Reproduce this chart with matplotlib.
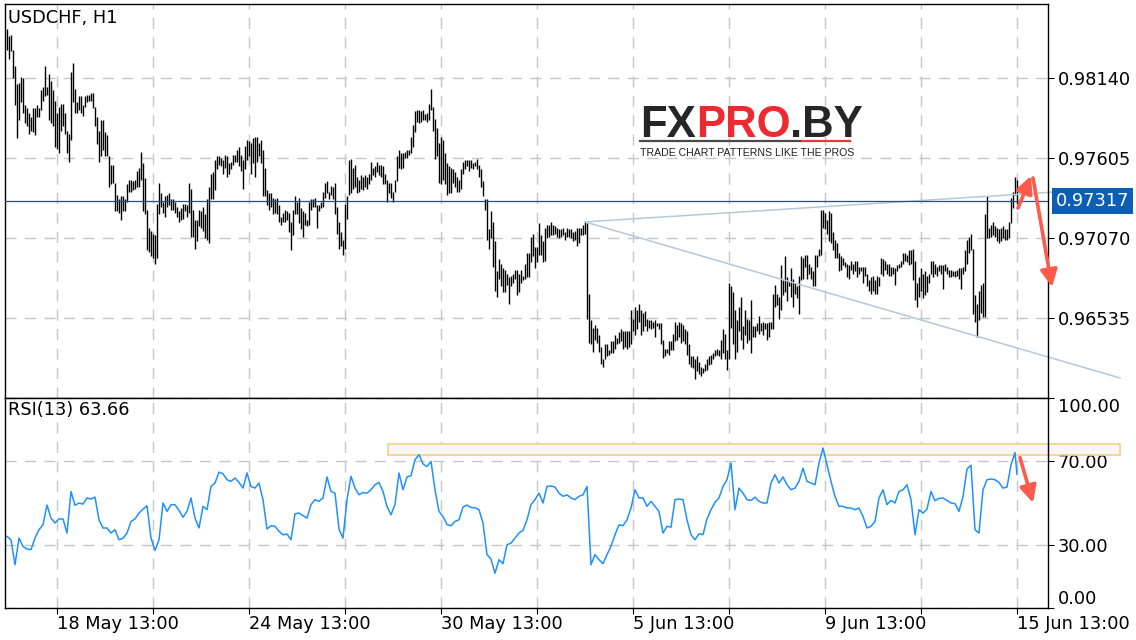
import numpy as np
import matplotlib.pyplot as plt
from matplotlib.patches import Rectangle
from matplotlib.lines import Line2D
from matplotlib.transforms import blended_transform_factory

# USDCHF H1 bars as (high, low) in pips above 0.96000
BASE = 0.96

hl_1 = [(247,233),(242,227),(243,232),(233,214),(222,196),(210,174),(211,186),(215,198),(214,191),(196,184),
        (194,182),(191,177),(188,179),(194,178),(194,176),(196,188),(194,188),(206,193),(208,199),(222,202),
        (208,203),(217,186),(212,184),(206,182),(199,168),(191,167),(195,164),(197,179),(197,182),(191,177),
        (179,164),(177,158),(218,173),(224,198),(207,191),(198,191),(202,193),(202,191),(196,189),(202,195),
        (203,198),(203,199),(204,199),(204,194),(195,182),(188,170),(179,158),(186,162),(186,166),(178,162),
        (176,162),(162,141),(156,143),(156,144),(144,125),(136,125),(133,124),(135,119),(135,125),(133,125),
        (143,131),(146,138),(146,138),(145,139),(146,140),(152,141),(154,141),(165,146),(157,125),(147,123),
        (126,99),(114,98),(112,95),(110,94),(109,90),(130,94),(144,123),(137,128),(131,124),(135,121),
        (136,128),(137,129),(133,126),(133,126),(131,124),(128,121),(125,118),(127,119),(130,120),(130,125),
        (129,121),(144,124),(140,108),(126,108),(119,100),(119,105),(126,115),(125,114),(128,112),(123,107),
        (133,106),(141,104),(150,133),(151,133)]

hl_2 = [(159,139),(162,153),(162,156),(161,155),(159,150),(163,154),(162,148),(157,150),(158,153),(163,156),
        (163,158),(166,158),(168,155),(163,152),(159,140),(169,153),(173,159),(172,162),(171,150),(174,157),
        (175,148),(175,158),(171,162),(173,157),(166,135),(154,135),(139,129),(137,126),(137,128),(134,123),
        (133,124),(134,123),(129,118),(121,116),(124,118),(126,118),(125,119),(124,111),(118,99),(126,109),
        (135,123),(131,123),(134,117),(127,113),(125,108),(124,116),(119,115),(131,116),(133,126),(133,128),
        (134,128),(129,114),(129,125),(131,127),(138,128),(144,134),(145,137),(138,133),(142,136),(141,133),
        (144,123),(128,110),(118,100),(111,102),(106,96),(130,100),(135,120),(159,136),(160,137),(154,140),
        (156,141),(148,137),(146,138),(149,140),(148,139),(149,141),(148,140),(150,143),(158,146),(154,149),
        (155,148),(158,151),(156,149),(156,148),(155,143),(150,143),(146,131),(144,137),(144,134),(138,131),
        (146,138),(162,145),(166,154),(164,153),(164,154),(165,161),(166,161),(166,163),(175,164),(183,168),
        (192,178),(193,185)]

hl_3 = [(193,184),(192,185),(193,186),(190,186),(191,185),(197,186),(207,193),(195,179),(187,160),(181,162),
        (171,144),(175,143),(173,146),(164,143),(157,136),(155,137),(154,137),(153,144),(151,141),(148,138),
        (146,138),(153,140),(158,150),(159,153),(159,155),(159,152),(159,154),(157,153),(158,155),(160,153),
        (156,148),(153,141),(145,135),(133,126),(133,106),(113,100),(125,107),(118,88),(105,72),(85,68),
        (93,80),(90,75),(87,71),(86,71),(83,76),(81,63),(82,75),(83,77),(86,80),(86,69),
        (83,71),(86,77),(82,79),(90,80),(97,81),(97,81),(108,91),(110,95),(101,87),(101,91),
        (117,96),(109,96),(105,91),(114,92),(116,107),(116,108),(118,109),(116,109),(115,110),(114,108),
        (113,107),(113,108),(114,109),(111,106),(114,108),(113,108),(113,107),(111,105),(112,106),(114,102),
        (114,104),(114,109),(116,109),(118,110),(117,53),(70,37),(52,36),(47,31),(49,39),(47,37),
        (42,31),(34,23),(26,21),(36,26),(36,28),(32,29),(38,30),(38,30),(42,33),(40,36),
        (44,37),(46,38),(45,33),(45,34),(45,33)]

hl_4 = [(45,34),(59,36),(53,45),(61,42),(59,46),(63,51),(59,42),(57,45),(58,48),(53,45),
        (52,47),(52,46),(51,47),(52,41),(50,48),(50,46),(50,36),(39,27),(33,28),(33,30),
        (38,29),(38,32),(43,32),(51,38),(49,39),(51,41),(50,37),(49,38),(46,36),(45,29),
        (36,23),(28,21),(28,20),(26,13),(28,18),(24,16),(21,15),(20,17),(23,18),(26,19),
        (28,22),(29,23),(30,26),(32,28),(33,29),(32,28),(39,26),(46,30),(43,26),(32,19),
        (77,26),(75,47),(71,36),(59,26),(52,31),(61,45),(68,39),(48,33),(59,42),(53,37),
        (52,39),(66,30),(48,41),(48,41),(50,45),(55,43),(50,45),(51,42),(50,46),(50,39),
        (51,41),(51,46),(70,46),(76,61),(70,62),(68,53),(89,59),(79,69),(95,71),(81,65),
        (78,75),(87,68),(80,61),(77,70),(75,67),(82,56),(95,79),(94,80),(96,88),(96,80),
        (90,83),(88,80),(85,75),(96,75),(96,88),(100,95),(126,96),(126,114),(124,113),(119,110),
        (125,105),(124,104),(111,99),(106,94),(104,94),(97,85)]

hl_5 = [(95,86),(94,89),(91,88),(90,81),(89,80),(92,86),(90,83),(92,85),(92,81),(88,83),
        (88,85),(88,77),(88,82),(83,75),(79,72),(81,70),(82,72),(79,70),(82,70),(81,75),
        (94,83),(93,82),(92,86),(90,83),(90,82),(88,82),(88,83),(87,76),(89,85),(90,87),
        (92,88),(97,90),(97,92),(96,91),(99,89),(99,90),(100,79),(92,66),(77,61),(81,68),
        (87,72),(83,67),(85,69),(82,71),(83,77),(92,83),(92,81),(90,83),(88,82),(89,85),
        (89,83),(89,73),(90,85),(88,83),(86,81),(86,81),(85,82),(85,81),(86,82),(87,80),
        (87,73),(88,83),(99,85),(106,90),(108,97),(110,99),(100,56),(69,51),(63,41),(72,52),
        (76,57),(77,54),(123,54),(135,107),(114,107),(116,108),(118,109),(115,108),(114,105),(113,104),
        (114,105),(115,107),(113,106),(113,106),(118,107),(134,117),(138,127),(148,136),(146,130)]

# RSI(13), read at every second bar
rsi_1 = [34.1,32.5,20.6,33.3,29.3,28.1,27.8,33.3,37.3,39.6,49,42.8,40.5,42.4,42.4,35.7,55.5,48.9,50,49.5,
         52.4,51.9,52.8,42.0,38.1,38.1,35.7,37.3,32.5,33.2,35.7,41.2,42.4,45.2,47.1,48.7,33.3,27.4,32.5,50,
         46,49.2,49.2,46.5,43.2,46,52.4,42.8,38.1,48.4,46.8,57.9,59.5]
rsi_2 = [64.7,63.9,61.1,60.3,61.9,59.8,57.1,64.3,57.9,57.1,59.5,51.6,37.6,39.2,38.9,36.5,34.9,35.2,32.5,44.9,
         45.2,44,42.8,49.2,51.6,50.8,52.4,62.4,55.5,54.7,37.6,33.3,51.6,62.7,57.1,53.9,55,54.7,56.3,58.7,
         59.8,55.5,48.4,44.4,49.2,64.3,56.3,62.4,63,70.6,73]
rsi_3 = [68.6,67.4,69.8,56.3,46,43.6,39.7,39.2,41.2,42,48.1,49,47.9,47.7,46.8,40.5,25.4,23.3,16.6,23,
         21.1,30.1,30.9,33.3,35.7,37,42,49.2,51.6,54.7,50,57.9,58.1,57.6,54.7,53.2,53.9,52.4,51.6,53.2,
         53.9,57.9,20.6,25.4,23,21.1,25.4,29.4,34.9,39.6,39.2,42]
rsi_4 = [47.6,56.3,52.4,52.4,48.4,50.8,48.4,46,35.7,38.9,38.5,51.6,51.9,51.6,42,34.9,32.5,35.4,34.9,42.4,
         46.8,50.3,52.4,57.9,61.1,69,46.8,57.1,54.7,51.6,51.2,52.8,50.8,50,50,59.5,63.5,59.5,62.4,58.7,
         56.3,57.1,60.3,66.6,60.3,59.5,58.7,69,76.2,68.2,60.3,53.1,48.4]
rsi_5 = [48.4,47.6,47.6,46.8,47.6,43.6,38.1,38.9,41.2,52.4,56.3,49.2,51.2,50,55.5,56.3,58.7,51.6,34.9,46.8,
         45.2,47.1,55.5,51.1,52.2,52.4,51.2,50,49.7,46,53.1,66.2,68,37.3,35.7,56.3,61.1,61.4,61.1,59.8,
         57.1,57.6,68.2,74]
rsi_last = 63.66

last_price = 0.97317
price_levels = [0.96535, 0.97070, 0.97605, 0.98140]
rsi_levels = [0, 30, 70, 100]
date_labels = ["18 May 13:00", "", "24 May 13:00", "", "30 May 13:00", "", "5 Jun 13:00", "",
               "9 Jun 13:00", "", "15 Jun 13:00"]

# drawings on the chart (bar index, value)
trend_start = (289, 0.97179)
trend_up_end = (540, 0.97393)
trend_down_end = (556.5, 0.96135)
arrow_up = ((505.5, 0.97272), (512, 0.97486))
arrow_down = ((513, 0.97473), (522.5, 0.96744))
arrow_rsi = ((506.5, 71.6), (513, 50.1))
rsi_zone = (190.5, 556.5, 73, 78)

hl = np.array(hl_1 + hl_2 + hl_3 + hl_4 + hl_5)
high = BASE + hl[:, 0] / 10000
low = BASE + hl[:, 1] / 10000
n = len(high)
idx = np.arange(n)

rsi = np.array(rsi_1 + rsi_2 + rsi_3 + rsi_4 + rsi_5)
rsi_x = np.append(np.arange(len(rsi)) * 2, n - 1)
rsi_y = np.append(rsi, rsi_last)

grid_idx = [n - 1 - 48 * k for k in range(10, -1, -1)]

W, H = 1136, 640
fig = plt.figure(figsize=(W / 100, H / 100), dpi=100)
ax = fig.add_axes([5 / W, 1 - 398 / H, 1043 / W, 394 / H])
ax2 = fig.add_axes([5 / W, 32 / H, 1043 / W, 210 / H], sharex=ax)

grid_kw = dict(color='#c6c6c6', linestyle=(0, (8, 6)), linewidth=1.0)
fs = 12.8

# price panel
ax.vlines(idx, low, high, color='black', linewidth=1.0)
ax.set_xlim(-1, 520.5)
ax.set_ylim(0.96001, 0.98637)
ax.set_xticks(grid_idx)
ax.set_yticks(price_levels)
ax.set_yticklabels([f"{p:.5f}" for p in price_levels])
ax.yaxis.tick_right()
ax.tick_params(axis='y', direction='out', length=4, pad=3, labelsize=fs)
ax.tick_params(axis='x', bottom=False, labelbottom=False)
ax.grid(True, **grid_kw)
ax.set_axisbelow(True)

ax.axhline(last_price, color='#2a4f78', linewidth=0.9, zorder=3)
for end in (trend_up_end, trend_down_end):
    ax.plot([trend_start[0], end[0]], [trend_start[1], end[1]],
            color='#b2c9da', linewidth=1.1, clip_on=False, zorder=2)

trans = blended_transform_factory(ax.transAxes, ax.transData)
ax.text(1.0075, last_price, f"{last_price:.5f}", transform=trans, ha='left', va='center',
        fontsize=fs, color='white', zorder=5,
        bbox=dict(boxstyle='square,pad=0.22', fc='#0b5fb5', ec='none'))

ax.text(0.003, 0.9645, "USDCHF, H1", transform=ax.transAxes, fontsize=fs, va='center', ha='left')

arrow_kw = dict(arrowstyle='-|>,head_length=0.6,head_width=0.3', color='#ff5a4c',
                linewidth=2.6, mutation_scale=17, shrinkA=0, shrinkB=0)
for tail, head in [arrow_up, arrow_down]:
    ax.annotate('', xy=head, xytext=tail, arrowprops=arrow_kw, annotation_clip=False, zorder=6)

# logo
logo_font = dict(family='Liberation Sans', fontweight='bold', fontsize=31.5)
t_fx = fig.text(640 / W, 1 - 137 / H, "FX", color='#262626', va='baseline', **logo_font)
t_pro = ax.annotate("PRO", xy=(1, 0), xycoords=t_fx, va='bottom', ha='left',
                    color='#ec2a2f', annotation_clip=False, **logo_font)
ax.annotate(".BY", xy=(1, 0), xycoords=t_pro, va='bottom', ha='left',
            color='#262626', annotation_clip=False, **logo_font)
fig.add_artist(Line2D([640 / W, 802 / W], [1 - 141 / H] * 2, color='#4a4a4a', linewidth=1.6))
fig.add_artist(Line2D([802 / W, 850 / W], [1 - 141 / H] * 2, color='#e8383a', linewidth=1.6))
fig.text(640 / W, 1 - 147.5 / H, "TRADE CHART PATTERNS LIKE THE PROS", family='Liberation Sans',
         fontsize=7.6, color='#222222', va='top', ha='left')

# RSI panel
ax2.plot(rsi_x, rsi_y, color='#1e90ff', linewidth=1.1)
ax2.set_ylim(0, 100)
ax2.set_yticks(rsi_levels)
ax2.set_yticklabels([f"{v:.2f}" for v in rsi_levels])
ax2.yaxis.tick_right()
ax2.tick_params(axis='y', direction='out', length=4, pad=3, labelsize=fs)
labels = ax2.get_yticklabels()
labels[0].set_va('bottom')
labels[-1].set_va('top')
ax2.set_xticks(grid_idx)
ax2.set_xticklabels(date_labels)
for t in ax2.get_xticklabels():
    t.set_ha('left')
ax2.tick_params(axis='x', direction='out', length=4, pad=1, labelsize=fs)
ax2.grid(True, **grid_kw)
ax2.set_axisbelow(True)

x0, x1, y0, y1 = rsi_zone
ax2.add_patch(Rectangle((x0, y0), x1 - x0, y1 - y0, facecolor='#f6f6f6', edgecolor='#f5d080',
                        linewidth=1.2, clip_on=False, zorder=1))
ax2.annotate('', xy=arrow_rsi[1], xytext=arrow_rsi[0], arrowprops=arrow_kw,
             annotation_clip=False, zorder=6)
ax2.text(0.003, 0.943, f"RSI(13) {rsi_last:.2f}", transform=ax2.transAxes, fontsize=fs,
         va='center', ha='left')

for a in (ax, ax2):
    for s in a.spines.values():
        s.set_color('black')
        s.set_linewidth(1.0)

fig.savefig('out.png', dpi=100)
